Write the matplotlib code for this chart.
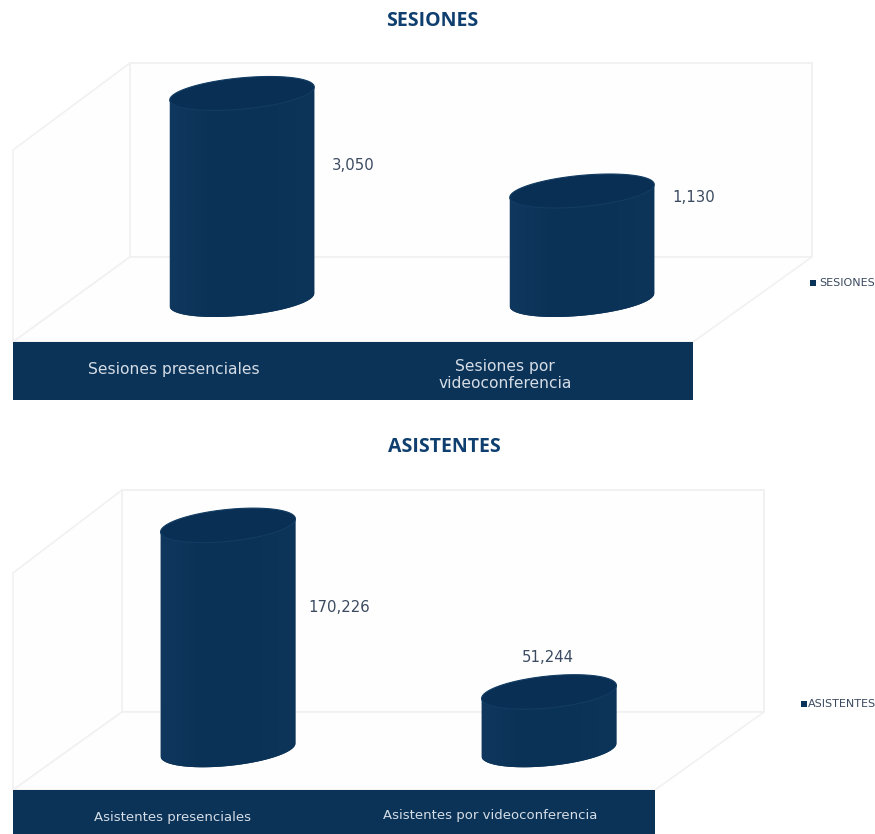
import numpy as np
import matplotlib
matplotlib.use("Agg")
import matplotlib.pyplot as plt
from matplotlib.patches import Polygon, Rectangle
from matplotlib.colors import LinearSegmentedColormap

W_PX, H_PX = 875, 834

# ---- data ----
titles = ["SESIONES", "ASISTENTES"]
sesiones_labels = ["Sesiones presenciales", "Sesiones por\nvideoconferencia"]
sesiones_values = [3050, 1130]
asistentes_labels = ["Asistentes presenciales", "Asistentes por videoconferencia"]
asistentes_values = [170226, 51244]

NAVY = "#0b3257"
TOP = "#0a2f54"
cmap = LinearSegmentedColormap.from_list("cyl", ["#10375d", "#0b3257", "#0a3358", "#0b3257", "#0d355a"])
TXT = "#3b4a60"
WALL = "#f1f1f1"

fig = plt.figure(figsize=(W_PX / 100, H_PX / 100), dpi=100, facecolor="white")

# backdrop layer in pixel coordinates
bg = fig.add_axes([0, 0, 1, 1], zorder=0)
bg.set_xlim(0, W_PX); bg.set_ylim(H_PX, 0); bg.axis("off")


def frame(x0, x1, bx0, bx1, ytop, yback, yleft, yfront, yband):
    """3D box: front edge x0..x1, back wall bx0..bx1."""
    bg.add_patch(Polygon([(bx0, ytop), (bx1, ytop), (bx1, yback), (bx0, yback)],
                         fc="#fefefe", ec=WALL, lw=1.4))
    bg.add_patch(Polygon([(x0, yleft), (bx0, ytop), (bx0, yback), (x0, yfront)],
                         fc="#fefefe", ec=WALL, lw=1.2))
    bg.add_patch(Polygon([(x0, yfront), (x1, yfront), (bx1, yback), (bx0, yback)],
                         fc="#fefefe", ec=WALL, lw=1.2))
    bg.add_patch(Rectangle((x0, yfront), x1 - x0, yband - yfront, fc="#0b3358", ec="none"))


def cylinders(box, base, vtop, values, half_w, k_px, h_px):
    """box = left, right, top, floor pixels; the axes run 40 px below the floor."""
    ppu = (box[3] - box[2]) / (vtop - base)
    low = base - 40 / ppu
    ax = fig.add_axes([box[0] / W_PX, 1 - (box[3] + 40) / H_PX,
                       (box[1] - box[0]) / W_PX, (box[3] + 40 - box[2]) / H_PX], zorder=2)
    ax.set_xlim(-0.5, 1.5); ax.set_ylim(low, vtop)
    ax.axis("off")
    t = np.linspace(0, 2 * np.pi, 240)
    for i, v in enumerate(values):
        ex = i + half_w * np.cos(t)
        ey = (k_px * np.cos(t) + h_px * np.sin(t)) / ppu
        lower = np.sin(t) <= 0
        lo_order = np.argsort(ex[lower])
        lx, ly = ex[lower][lo_order], ey[lower][lo_order]
        bx = np.r_[i - half_w, lx, i + half_w, i - half_w]
        by = np.r_[v - k_px / ppu, base + ly, v + k_px / ppu, v - k_px / ppu]
        body = Polygon(np.c_[bx, by], closed=True, fc=NAVY, ec="none", zorder=3)
        ax.add_patch(body)
        im = ax.imshow(np.linspace(0, 1, 64)[None, :], cmap=cmap, aspect="auto", zorder=3.5,
                       extent=(i - half_w, i + half_w, low, v + 40 / ppu))
        im.set_clip_path(body)
        ax.add_patch(Polygon(np.c_[ex, v + ey], closed=True, fc=TOP, ec="#123c63", lw=0.8, zorder=4))
    ax.set_xlim(-0.5, 1.5); ax.set_ylim(low, vtop)
    return ax


# ---- panel 1 ----
frame(13, 693, 130, 812, 63, 257, 150, 342, 400)
ax1 = cylinders((72, 752, 63, 300), -1016, 3650, sesiones_values, 0.2125, 6.5, 15.7)
# ---- panel 2 ----
frame(13, 655, 122, 764, 490, 712, 573, 790, 834)
ax2 = cylinders((67.5, 709.5, 490, 750), 9786, 195500, asistentes_values, 0.21, 6.5, 16)


def t(x, y, s, **kw):
    bg.text(x, y, s, ha=kw.pop("ha", "center"), va="center", **kw)


t(432, 21, titles[0], color="#0f3f6f", fontsize=14, fontweight="bold", family="Open Sans")
t(444, 447, titles[1], color="#0f3f6f", fontsize=14, fontweight="bold", family="Open Sans")

for vals, pos in [(sesiones_values, [(353, 165), (694, 197)]),
                  (asistentes_values, [(339, 607), (548, 658)])]:
    for v, (x, y) in zip(vals, pos):
        t(x, y, f"{v:,}", color=TXT, fontsize=10.7)

for lab, (x, y) in zip(sesiones_labels, [(174, 369), (505, 375)]):
    t(x, y, lab, color="#d5dde6", fontsize=11.2, linespacing=1.15)
for lab, (x, y) in zip(asistentes_labels, [(172, 817), (490, 816)]):
    t(x, y, lab, color="#d5dde6", fontsize=9.55)

# legends
bg.add_patch(Rectangle((810, 280), 6, 6, fc=NAVY, ec="none"))
t(819, 283, titles[0], ha="left", color=TXT, fontsize=8)
bg.add_patch(Rectangle((801, 701), 6, 6, fc=NAVY, ec="none"))
t(808, 704, titles[1], ha="left", color=TXT, fontsize=8)

fig.savefig("out.png", dpi=100)
